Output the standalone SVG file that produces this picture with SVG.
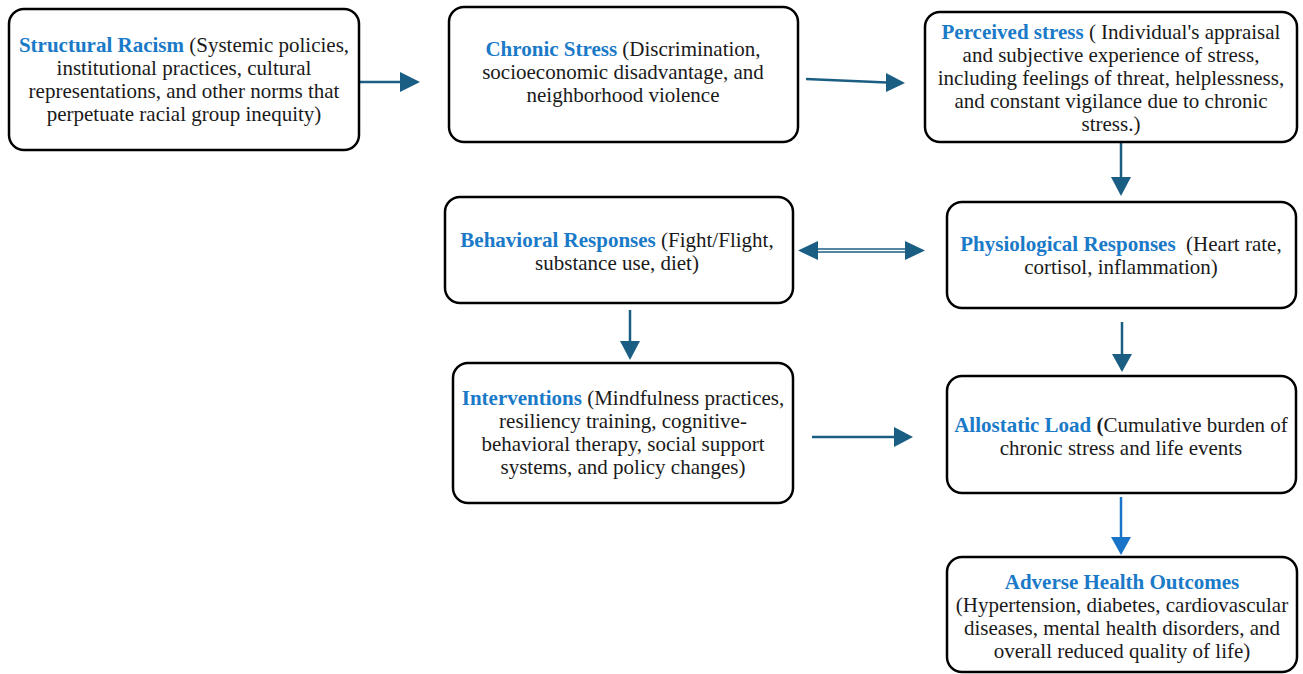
<svg xmlns="http://www.w3.org/2000/svg" width="1303" height="674" viewBox="0 0 1303 674">
<defs>
<style>
.box{fill:#fff;stroke:#000;stroke-width:2.5}
text{font-family:"Liberation Serif","Times New Roman",serif;font-size:21px;fill:#1a1a1a;text-anchor:middle}
.t{font-weight:bold;fill:#1a7ac8}
.b{font-weight:bold}
.c{stroke:#1b5e83;stroke-width:2.5;fill:none}
.c2{stroke:#1874c8;stroke-width:2.5;fill:none}
</style>
</defs>
<g id="connectors">
<path class="c" d="M359,82 H402"/><path d="M400,72 L420,82 L400,92 z" fill="#1b5e83"/>
<path class="c" d="M806,79 L887,82.5"/><path d="M886,73 L905,83 L886,92 z" fill="#1b5e83"/>
<path class="c" d="M1121,142 V180"/><path d="M1111,177 L1121,196 L1131,177 z" fill="#1b5e83"/>
<path d="M816,250.5 H907" stroke="#1b5e83" stroke-width="4.5" fill="none"/>
<path d="M816,250.5 H907" stroke="#fff" stroke-width="1.3" fill="none"/>
<path d="M818,241 L798,250.5 L818,260 z" fill="#1b5e83"/>
<path d="M905,241 L925,250.5 L905,260 z" fill="#1b5e83"/>
<path class="c" d="M630,310 V344"/><path d="M620,341 L630,360 L640,341 z" fill="#1b5e83"/>
<path class="c" d="M1122,322 V356"/><path d="M1112,354 L1122,372 L1132,354 z" fill="#1b5e83"/>
<path class="c" d="M812,437 H896"/><path d="M894,427 L913,437 L894,447 z" fill="#1b5e83"/>
<path class="c2" d="M1121,497 V539"/><path d="M1111,537 L1121,555 L1131,537 z" fill="#1874c8"/>
</g>
<g id="structural-racism">
<rect class="box" x="9" y="9" width="350" height="141" rx="15"/>
<text x="184" y="52"><tspan class="t">Structural Racism</tspan> (Systemic policies,<tspan x="184" dy="23">institutional practices, cultural</tspan><tspan x="184" dy="23">representations, and other norms that</tspan><tspan x="184" dy="23">perpetuate racial group inequity)</tspan></text>
</g>
<g id="chronic-stress">
<rect class="box" x="449" y="7" width="349" height="135" rx="15"/>
<text x="623" y="56"><tspan class="t">Chronic Stress</tspan> (Discrimination,<tspan x="623" dy="23">socioeconomic disadvantage, and</tspan><tspan x="623" dy="23">neighborhood violence</tspan></text>
</g>
<g id="perceived-stress">
<rect class="box" x="925" y="12" width="372" height="130" rx="15"/>
<text x="1111" y="39"><tspan class="t">Perceived stress</tspan> ( Individual's appraisal<tspan x="1111" dy="23">and subjective experience of stress,</tspan><tspan x="1111" dy="23">including feelings of threat, helplessness,</tspan><tspan x="1111" dy="23">and constant vigilance due to chronic</tspan><tspan x="1111" dy="23">stress.)</tspan></text>
</g>
<g id="behavioral-responses">
<rect class="box" x="445" y="197" width="348" height="106" rx="15"/>
<text x="617" y="247"><tspan class="t">Behavioral Responses</tspan> (Fight/Flight,<tspan x="617" dy="23">substance use, diet)</tspan></text>
</g>
<g id="physiological-responses">
<rect class="box" x="947" y="202" width="349" height="106" rx="15"/>
<text x="1121" y="251" xml:space="preserve"><tspan class="t">Physiological Responses</tspan>  (Heart rate,<tspan x="1121" dy="23">cortisol, inflammation)</tspan></text>
</g>
<g id="interventions">
<rect class="box" x="453" y="363" width="340" height="140" rx="15"/>
<text x="623" y="405"><tspan class="t">Interventions</tspan> (Mindfulness practices,<tspan x="623" dy="23">resiliency training, cognitive-</tspan><tspan x="623" dy="23">behavioral therapy, social support</tspan><tspan x="623" dy="23">systems, and policy changes)</tspan></text>
</g>
<g id="allostatic-load">
<rect class="box" x="947" y="376" width="349" height="117" rx="15"/>
<text x="1121" y="432"><tspan class="t">Allostatic Load</tspan> <tspan class="b">(</tspan>Cumulative burden of<tspan x="1121" dy="23">chronic stress and life events</tspan></text>
</g>
<g id="adverse-health-outcomes">
<rect class="box" x="947" y="557" width="350" height="115" rx="15"/>
<text x="1122" y="589"><tspan class="t">Adverse Health Outcomes</tspan><tspan x="1122" dy="23">(Hypertension, diabetes, cardiovascular</tspan><tspan x="1122" dy="23">diseases, mental health disorders, and</tspan><tspan x="1122" dy="23">overall reduced quality of life)</tspan></text>
</g>
</svg>
